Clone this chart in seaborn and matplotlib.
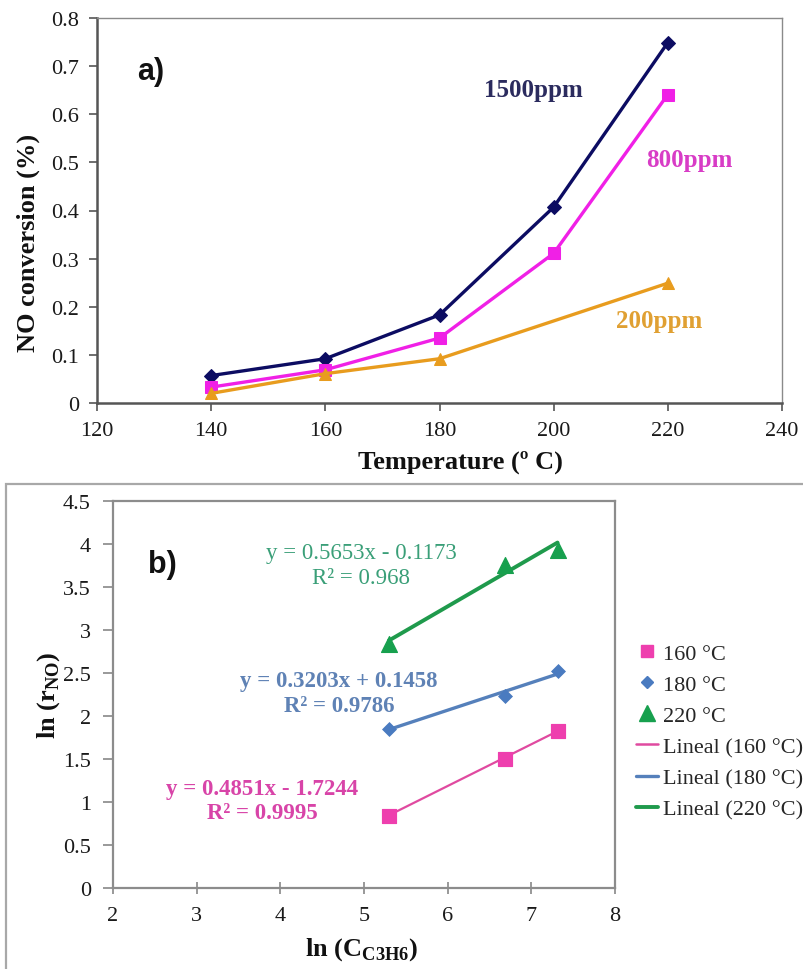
import numpy as np
import matplotlib
matplotlib.use("Agg")
import matplotlib.pyplot as plt
from matplotlib.lines import Line2D
from matplotlib.patches import Rectangle
from matplotlib.ticker import FuncFormatter
import seaborn as sns

# ---- panel a: NO conversion vs temperature ----
temperature = [140, 160, 180, 200, 220]
conv_1500 = [0.057, 0.092, 0.183, 0.407, 0.749]
conv_800 = [0.033, 0.069, 0.135, 0.311, 0.641]
temperature_200 = [140, 160, 180, 220]
conv_200 = [0.020, 0.061, 0.092, 0.249]
series_a_labels = ["1500ppm", "800ppm", "200ppm"]

# ---- panel b: ln(r_NO) vs ln(C_C3H6) ----
ln_c3h6 = [5.298, 6.685, 7.313]
ln_r_160 = [0.84, 1.50, 1.82]
ln_r_180 = [1.85, 2.23, 2.52]
ln_r_220 = [2.84, 3.76, 3.93]
fit_slope = [0.4851, 0.3203, 0.5653]
fit_intercept = [-1.7244, 0.1458, -0.1173]
fit_r2 = ["0.9995", "0.9786", "0.968"]
series_b_labels = ["160 °C", "180 °C", "220 °C"]

sns.set_theme(style="white")
plt.rcParams["font.family"] = ["Liberation Serif", "DejaVu Serif"]
plt.rcParams["mathtext.fontset"] = "custom"
plt.rcParams["mathtext.rm"] = "Liberation Serif"
plt.rcParams["mathtext.bf"] = "Liberation Serif:bold"

W, H = 804, 970
fig = plt.figure(figsize=(W / 100, H / 100), dpi=100)


def frac_axes(l, t, r, b):
    return fig.add_axes([l / W, 1 - b / H, (r - l) / W, (b - t) / H])


fmt = FuncFormatter(lambda v, p: f"{v:g}")
TICK_FS = 16

# ================= panel a =================
ax = frac_axes(97, 19, 782, 404)
navy, magenta, orange = "#0c0c62", "#f020e6", "#e89c1e"
sns.lineplot(x=temperature, y=conv_1500, ax=ax, color=navy, lw=2.4,
             marker="D", markersize=7, markeredgecolor=navy, errorbar=None)
sns.lineplot(x=temperature, y=conv_800, ax=ax, color=magenta, lw=2.4,
             marker="s", markersize=9, markeredgecolor=magenta, errorbar=None)
sns.lineplot(x=temperature_200, y=conv_200, ax=ax, color=orange, lw=2.4,
             marker="^", markersize=9, markeredgecolor=orange, errorbar=None)

ax.set_xlim(120, 240)
ax.set_ylim(0, 0.8)
ax.set_xticks(np.arange(120, 241, 20))
ax.set_yticks(np.arange(0, 0.81, 0.1))
ax.yaxis.set_major_formatter(fmt)
ax.tick_params(axis="both", direction="out", length=6, width=1.2,
               color="#555555", labelsize=TICK_FS, labelcolor="#1a1a1a", pad=7,
               left=True, bottom=True)
for s in ("left", "bottom"):
    ax.spines[s].set_color("#555555")
    ax.spines[s].set_linewidth(1.8)
for s in ("top", "right"):
    ax.spines[s].set_color("#8a8a8a")
    ax.spines[s].set_linewidth(1.0)

ax.set_xlabel("Temperature (º C)", fontsize=19, fontweight="bold", color="#111111")
ax.set_ylabel("NO conversion (%)", fontsize=19, fontweight="bold", color="#111111")
ax.xaxis.set_label_coords(0.531, -0.12)
ax.yaxis.set_label_coords(-0.083, 0.418)

ax.text(196.4, 0.651, series_a_labels[0], color="#2b2b5e", fontsize=18,
        fontweight="bold", ha="center", va="center")
ax.text(223.8, 0.505, series_a_labels[1], color="#d83cc6", fontsize=18,
        fontweight="bold", ha="center", va="center")
ax.text(218.4, 0.172, series_a_labels[2], color="#e0a032", fontsize=18,
        fontweight="bold", ha="center", va="center")
ax.text(129.4, 0.69, "a)", fontsize=22, fontweight="bold",
        family=["Liberation Sans", "DejaVu Sans"], ha="center", va="center",
        color="#111111")

# ================= panel b =================
# outer chart border
fig.patches.append(Rectangle((6 / W, -0.05), 1.05, 0.05 + 1 - 485 / H,
                             transform=fig.transFigure, fill=False,
                             edgecolor="#a8a8a8", lw=1.6, zorder=0))

bx = frac_axes(113, 502, 615, 889)
pink, blue, green = "#ee3fae", "#4a7bc0", "#17a04e"
line_pink, line_blue, line_green = "#e04aa0", "#5580bb", "#1f9a4c"

xs_fit = np.array([min(ln_c3h6), max(ln_c3h6)])
for slope, icpt, col, lw in zip(fit_slope, fit_intercept,
                                [line_pink, line_blue, line_green],
                                [1.6, 2.4, 2.8]):
    sns.lineplot(x=xs_fit, y=slope * xs_fit + icpt, ax=bx, color=col, lw=lw,
                 errorbar=None)

sns.scatterplot(x=ln_c3h6, y=ln_r_160, ax=bx, color=pink, marker="s", s=110,
                edgecolor=pink, zorder=3)
sns.scatterplot(x=ln_c3h6, y=ln_r_180, ax=bx, color=blue, marker="D", s=50,
                edgecolor=blue, zorder=3)
sns.scatterplot(x=ln_c3h6, y=ln_r_220, ax=bx, color=green, marker="^", s=130,
                edgecolor=green, zorder=3)

bx.set_xlim(2, 8)
bx.set_ylim(0, 4.5)
bx.set_xticks(np.arange(2, 9, 1))
bx.set_yticks(np.arange(0, 4.51, 0.5))
bx.yaxis.set_major_formatter(fmt)
bx.tick_params(axis="y", direction="out", length=7, width=1.2, color="#888888",
               labelsize=TICK_FS, labelcolor="#1a1a1a", pad=9, left=True)
bx.tick_params(axis="x", direction="inout", length=8, width=1.2, color="#888888",
               labelsize=TICK_FS, labelcolor="#1a1a1a", pad=9, bottom=True)
for s in bx.spines.values():
    s.set_color("#8c8c8c")
    s.set_linewidth(1.6)

bx.set_xlabel(r"ln (C$_{\mathbf{C3H6}}$)", fontsize=19, fontweight="bold",
              color="#111111")
bx.set_ylabel(r"ln (r$_{\mathbf{NO}}$)", fontsize=19, fontweight="bold",
              color="#111111")
bx.xaxis.set_label_coords(0.495, -0.122)
bx.yaxis.set_label_coords(-0.102, 0.5)

bx.text(4.97, 3.90, f"y = {fit_slope[2]}x - {abs(fit_intercept[2])}",
        color="#3a9f78", fontsize=16.5, ha="center", va="center")
bx.text(4.97, 3.61, f"R² = {fit_r2[2]}", color="#3a9f78", fontsize=16.5,
        ha="center", va="center")
bx.text(4.70, 2.415, f"y = {fit_slope[1]}x + {fit_intercept[1]}",
        color="#5f82b5", fontsize=16.5, fontweight="bold", ha="center", va="center")
bx.text(4.70, 2.12, f"R² = {fit_r2[1]}", color="#5f82b5", fontsize=16.5,
        fontweight="bold", ha="center", va="center")
bx.text(3.78, 1.157, f"y = {fit_slope[0]}x - {abs(fit_intercept[0])}",
        color="#d844a8", fontsize=16.5, fontweight="bold", ha="center", va="center")
bx.text(3.78, 0.877, f"R² = {fit_r2[0]}", color="#d844a8", fontsize=16.5,
        fontweight="bold", ha="center", va="center")
bx.text(2.59, 3.77, "b)", fontsize=22, fontweight="bold",
        family=["Liberation Sans", "DejaVu Sans"], ha="center", va="center",
        color="#111111")

handles = [
    Line2D([], [], ls="none", marker="s", ms=9, color=pink),
    Line2D([], [], ls="none", marker="D", ms=6, color=blue),
    Line2D([], [], ls="none", marker="^", ms=11, color=green),
    Line2D([], [], color=line_pink, lw=1.8),
    Line2D([], [], color=line_blue, lw=2.4),
    Line2D([], [], color=line_green, lw=2.8),
]
labels = series_b_labels + [f"Lineal ({t})" for t in series_b_labels]
bx.legend(handles, labels, loc="upper left", bbox_to_anchor=(636 / W, 1 - 644 / H),
          bbox_transform=fig.transFigure, frameon=False, fontsize=16,
          handlelength=1.0, handletextpad=0.2, labelspacing=0.48, borderpad=0,
          borderaxespad=0)

fig.savefig("out.png", dpi=100)
